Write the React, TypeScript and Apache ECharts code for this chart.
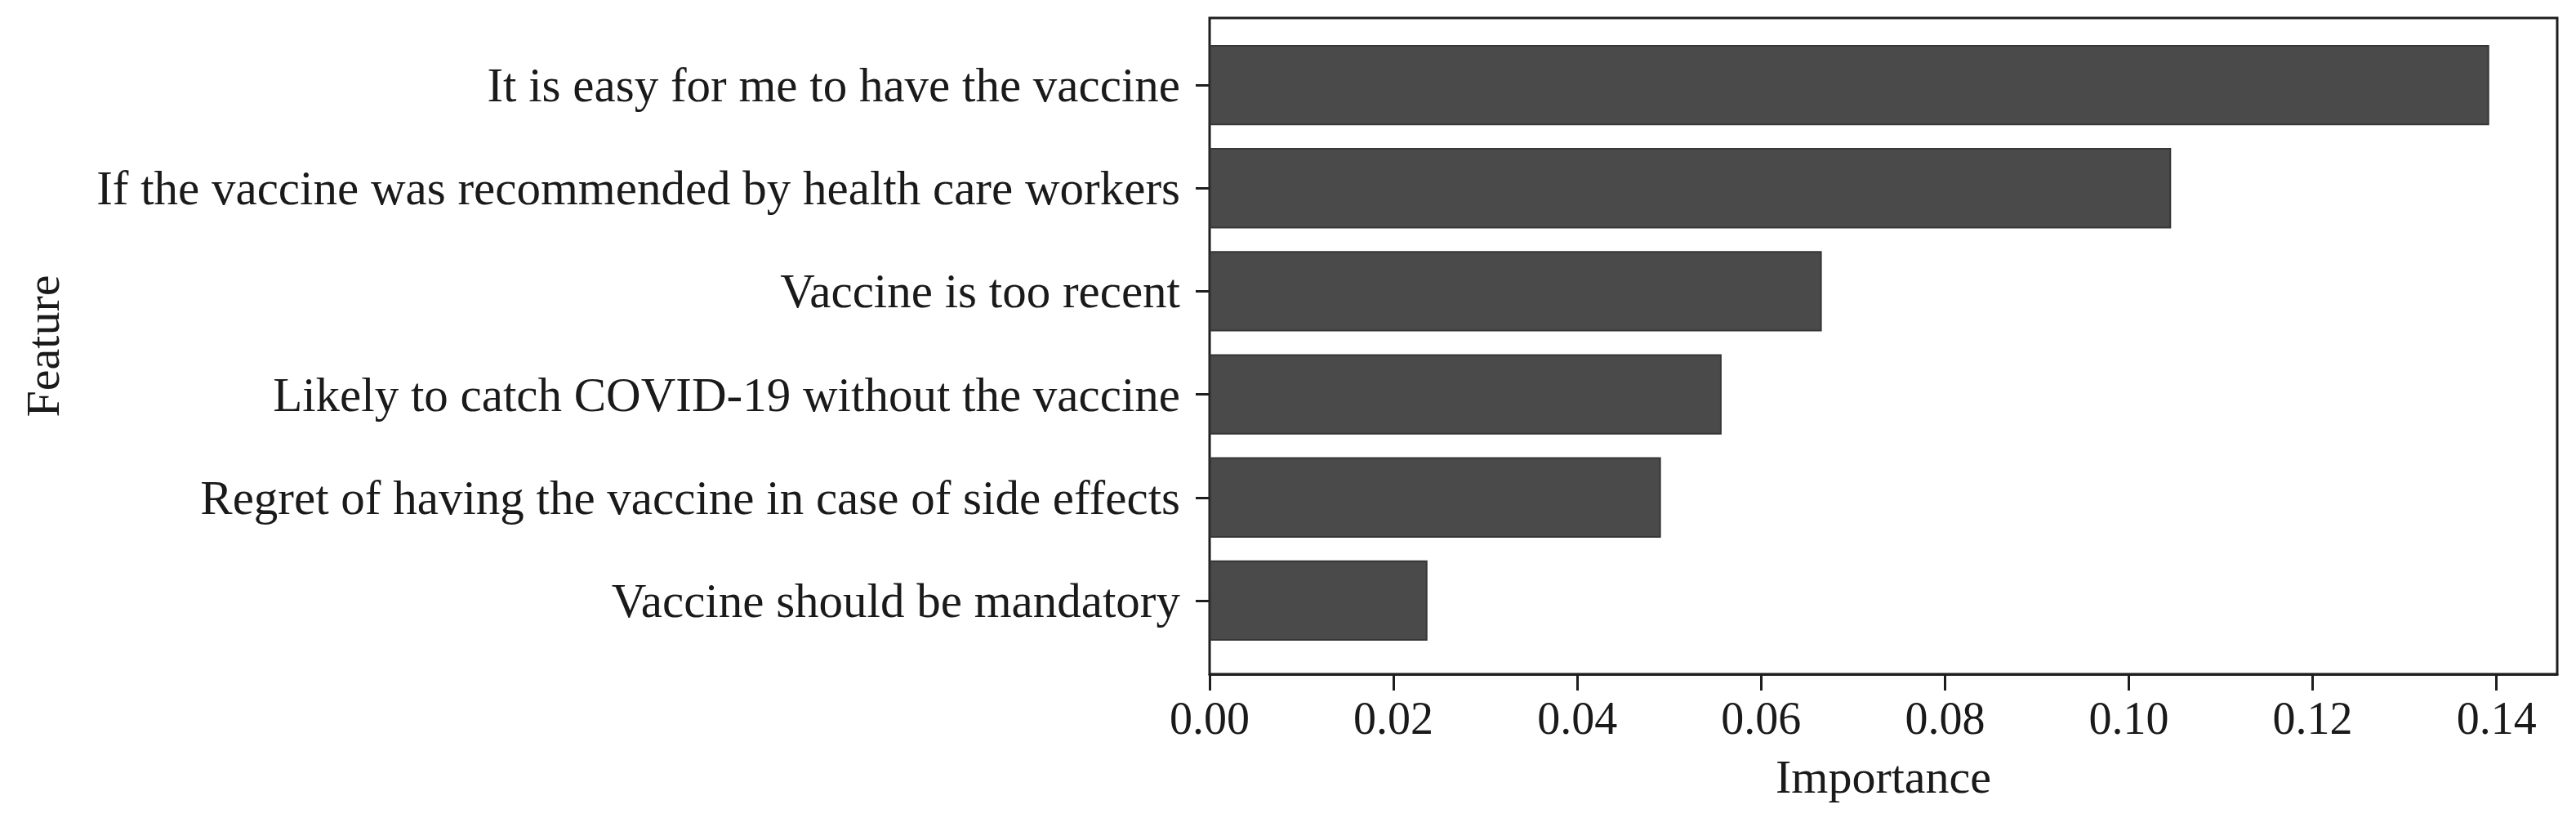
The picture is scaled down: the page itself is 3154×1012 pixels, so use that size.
import React, { useEffect, useRef } from "react";
import * as echarts from "echarts";

const categories: string[] = [
  "It is easy for me to have the vaccine",
  "If the vaccine was recommended by health care workers",
  "Vaccine is too recent",
  "Likely to catch COVID-19 without the vaccine",
  "Regret of having the vaccine in case of side effects",
  "Vaccine should be mandatory",
];
const importance: number[] = [0.1392, 0.1046, 0.0666, 0.0557, 0.0491, 0.0237];
const xTicks: number[] = [0, 0.02, 0.04, 0.06, 0.08, 0.1, 0.12, 0.14];
const xMax = 0.1466;

const FONT = "'Liberation Serif', 'Times New Roman', serif";
const INK = "#1a1a1a";

export default function App() {
  const ref = useRef<HTMLDivElement>(null);
  useEffect(() => {
    if (!ref.current) return;
    const chart = echarts.init(ref.current, undefined, { renderer: "svg" });
    chart.setOption({
      animation: false,
      backgroundColor: "#ffffff",
      grid: [
        {
          left: 1481,
          right: 23,
          top: 22,
          bottom: 187,
          show: true,
          borderWidth: 3,
          borderColor: "#1e1e1e",
          backgroundColor: "transparent",
        },
        { left: 1481, right: 23, top: 41, bottom: 214 },
      ],
      xAxis: [
        {
          type: "value",
          gridIndex: 0,
          min: 0,
          max: xMax,
          interval: 0.02,
          splitLine: { show: false },
          axisLine: { show: true, lineStyle: { color: "#1e1e1e", width: 3 } },
          axisTick: {
            show: true,
            length: 20,
            customValues: xTicks,
            lineStyle: { color: "#1e1e1e", width: 3 },
          },
          axisLabel: {
            customValues: xTicks,
            formatter: (v: number) => v.toFixed(2),
            fontFamily: FONT,
            fontSize: 56,
            color: INK,
            margin: 26,
          },
          name: "Importance",
          nameLocation: "middle",
          nameGap: 96,
          nameTextStyle: { fontFamily: FONT, fontSize: 58, color: INK },
        },
        {
          type: "value",
          gridIndex: 1,
          min: 0,
          max: xMax,
          show: false,
        },
      ],
      yAxis: [
        {
          type: "value",
          gridIndex: 0,
          show: true,
          axisLine: { show: false },
          axisTick: { show: false },
          axisLabel: { show: false },
          splitLine: { show: false },
          name: "Feature",
          nameLocation: "middle",
          nameGap: 1400,
          nameTextStyle: { fontFamily: FONT, fontSize: 58, color: INK },
        },
        {
          type: "category",
          gridIndex: 1,
          data: categories,
          inverse: true,
          axisLine: { show: false },
          axisTick: {
            show: true,
            alignWithLabel: true,
            length: 17,
            lineStyle: { color: "#1e1e1e", width: 3 },
          },
          axisLabel: {
            fontFamily: FONT,
            fontSize: 59,
            color: INK,
            margin: 36,
          },
        },
      ],
      series: [
        {
          type: "bar",
          xAxisIndex: 1,
          yAxisIndex: 1,
          data: importance,
          barCategoryGap: "22%",
          itemStyle: {
            color: "#4a4a4a",
            borderColor: "#363636",
            borderWidth: 2,
          },
        },
      ],
    });
    return () => chart.dispose();
  }, []);
  return (
    <div
      ref={ref}
      style={{ position: "absolute", left: 0, top: 0, width: 3154, height: 1012 }}
    />
  );
}
